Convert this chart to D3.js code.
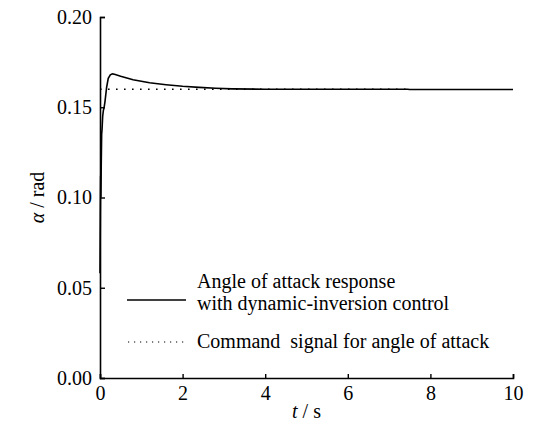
<!DOCTYPE html>
<html>
<head>
<meta charset="utf-8">
<script src="https://cdn.jsdelivr.net/npm/d3@7"></script>
<style>
  body { margin: 0; background: #fff; }
</style>
</head>
<body>
<div id="chart"></div>
<script>
// response data
var respT = [0, 0.008, 0.015, 0.022, 0.03, 0.04, 0.05, 0.065, 0.08, 0.1, 0.12, 0.14, 0.16, 0.2, 0.25, 0.3, 0.35, 0.5, 0.8, 1.2, 1.6, 2.0, 2.4, 2.8, 3.2, 4, 5, 6, 7, 7.45, 7.5, 8, 9, 10];
var respA = [0.058, 0.09, 0.112, 0.1, 0.118, 0.135, 0.138, 0.145, 0.148, 0.15, 0.153, 0.157, 0.161, 0.166, 0.168, 0.1685, 0.1683, 0.1672, 0.1652, 0.1636, 0.1625, 0.1616, 0.161, 0.1605, 0.1602, 0.16, 0.16, 0.16, 0.16, 0.16, 0.1598, 0.1598, 0.1598, 0.1598];

// command signal
var cmdT = [0, 7.45];
var cmdA = [0.16, 0.16];

var xTicks = [0, 2, 4, 6, 8, 10];
var yTicks = [0, 0.05, 0.10, 0.15, 0.20];

var legendLabels = [["Angle of attack response", "with dynamic-inversion control"], ["Command  signal for angle of attack"]];

var FONT = "Liberation Serif, Times New Roman, DejaVu Serif, serif";

(function() {
    var W = 537, H = 426;
    var margin = {top: 17, right: 24, bottom: 48, left: 100};
    var width = W - margin.left - margin.right;
    var height = H - margin.top - margin.bottom;

    var svg = d3.select("#chart").append("svg")
        .attr("width", W)
        .attr("height", H)
        .attr("font-family", FONT);

    var g = svg.append("g")
        .attr("transform", "translate(" + margin.left + "," + margin.top + ")");

    var x = d3.scaleLinear().domain([0, 10]).range([0, width]);
    var y = d3.scaleLinear().domain([0, 0.20]).range([height, 0]);

    //x axis, ticks inward
    var xAxis = g.append("g")
        .attr("transform", "translate(0," + height + ")")
        .call(d3.axisBottom(x).tickValues(xTicks).tickSize(-4).tickPadding(8)
            .tickFormat(d3.format("d")));

    //y axis, ticks inward
    var yAxis = g.append("g")
        .call(d3.axisLeft(y).tickValues(yTicks).tickSize(-5).tickPadding(8)
            .tickFormat(d3.format(".2f")));

    [xAxis, yAxis].forEach(function(a) {
        a.attr("font-family", FONT).attr("font-size", 20);
        a.select(".domain").attr("stroke", "#000").attr("stroke-width", 1.6);
        a.selectAll(".tick line").attr("stroke", "#000").attr("stroke-width", 1.4);
        a.selectAll(".tick text").attr("fill", "#000");
    });
    xAxis.selectAll(".tick text").attr("dy", "0.71em");

    var line = d3.line()
        .x(function(d) { return x(d[0]); })
        .y(function(d) { return y(d[1]); });

    var cmd = cmdT.map(function(t, i) { return [t, cmdA[i]]; });
    var resp = respT.map(function(t, i) { return [t, respA[i]]; });

    g.append("path")
        .datum(cmd)
        .attr("fill", "none")
        .attr("stroke", "#000")
        .attr("stroke-width", 1.6)
        .attr("stroke-dasharray", "1.6,6.4")
        .attr("d", line);

    g.append("path")
        .datum(resp)
        .attr("fill", "none")
        .attr("stroke", "#000")
        .attr("stroke-width", 1.6)
        .attr("d", line);

    //legend
    var lg = svg.append("g").attr("font-size", 20);
    lg.append("line")
        .attr("x1", 127).attr("x2", 186)
        .attr("y1", 300).attr("y2", 300)
        .attr("stroke", "#000").attr("stroke-width", 1.6);
    lg.append("line")
        .attr("x1", 128).attr("x2", 188)
        .attr("y1", 342).attr("y2", 342)
        .attr("stroke", "#000").attr("stroke-width", 1.2)
        .attr("stroke-dasharray", "1.2,4.8");

    lg.append("text").attr("x", 197).attr("y", 288).text(legendLabels[0][0]);
    lg.append("text").attr("x", 197).attr("y", 310).text(legendLabels[0][1]);
    lg.append("text").attr("x", 197).attr("y", 348)
        .style("white-space", "pre").text(legendLabels[1][0]);

    //axis titles
    var xt = svg.append("text")
        .attr("x", margin.left + width / 2)
        .attr("y", 418)
        .attr("text-anchor", "middle")
        .attr("font-size", 20);
    xt.append("tspan").attr("font-style", "italic").text("t");
    xt.append("tspan").text(" / s");

    var yt = svg.append("text")
        .attr("transform", "translate(44," + (margin.top + height / 2) + ") rotate(-90)")
        .attr("text-anchor", "middle")
        .attr("font-size", 20);
    yt.append("tspan").attr("font-style", "italic").text("α");
    yt.append("tspan").text(" / rad");
})();
</script>
</body>
</html>
